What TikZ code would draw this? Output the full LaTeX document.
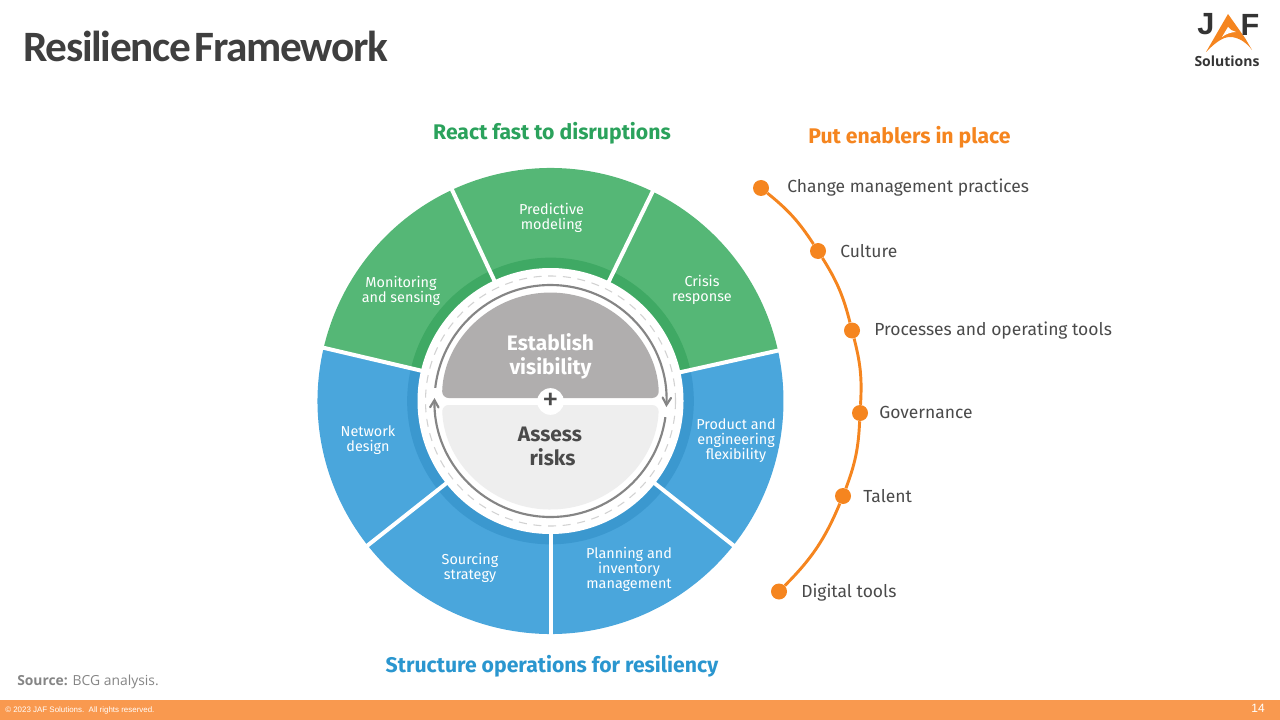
\documentclass[tikz,border=0pt]{standalone}
\usepackage{fontspec}
\setmainfont{Fira Sans}
\newfontfamily\titlefont[LetterSpace=-3]{Carlito}
\newfontfamily\sourcefont{Open Sans}
\newfontfamily\footfont{Liberation Sans}
\usepackage{xcolor}
\usetikzlibrary{arrows}
\definecolor{sectorgreen}{HTML}{55B776}
\definecolor{bandgreen}{HTML}{3FA964}
\definecolor{sectorblue}{HTML}{4AA6DC}
\definecolor{bandblue}{HTML}{3B98CF}
\definecolor{headgreen}{HTML}{2BA25C}
\definecolor{headblue}{HTML}{2A96CF}
\definecolor{enabler}{HTML}{F5851F}
\definecolor{footbar}{HTML}{F9994F}
\definecolor{inktext}{HTML}{4A4A4A}
\definecolor{halfgrey}{HTML}{B0AEAE}
\definecolor{halflight}{HTML}{EEEEEE}
\definecolor{arcgrey}{HTML}{858585}
\definecolor{dashgrey}{HTML}{D2D2D2}
\tikzset{
	wheellabel/.style={font=\fontsize{10.8}{11.3}\selectfont, text=white, align=center},
	centerlabel/.style={font=\fontsize{15.7}{18}\selectfont\bfseries, align=center},
	headlabel/.style={font=\fontsize{15.9}{18}\selectfont\bfseries},
	enablerlabel/.style={font=\fontsize{13.1}{15}\selectfont, text=inktext, anchor=west, inner sep=0},
	enablerdot/.style={circle, fill=enabler, minimum size=12, inner sep=0},
	enablerline/.style={draw=enabler, line width=2.2},
	gapline/.style={draw=white, line width=3},
	cyclearc/.style={draw=arcgrey, line width=1.6}
}
\begin{document}
\begin{tikzpicture}[x=0.75pt,y=0.75pt,yscale=-1,xscale=1]
	\useasboundingbox (0,0) rectangle (1280,720);
	
	\begin{scope}[shift={(550.5,401)},yscale=-1]
		%Shape: Green ring
		\fill [sectorgreen] (12.5:233) arc (12.5:166.8:233) -- (166.8:130) arc (166.8:12.5:130) -- cycle;
		%Shape: Blue ring
		\fill [sectorblue] (166.8:233) arc (166.8:372.5:233) -- (12.5:130) arc (372.5:166.8:130) -- cycle;
		%Shape: Inner bands
		\draw [bandgreen, line width=8] (12.5:138) arc (12.5:166.8:138);
		\draw [bandblue, line width=8] (166.8:138) arc (166.8:372.5:138);
		%Straight Lines: sector gaps
		\draw [gapline] (12.5:130) -- (12.5:236);
		\draw [gapline] (64:130) -- (64:236);
		\draw [gapline] (115:130) -- (115:236);
		\draw [gapline] (166.8:130) -- (166.8:236);
		\draw [gapline] (218.3:130) -- (218.3:236);
		\draw [gapline] (270:130) -- (270:236);
		\draw [gapline] (321.7:130) -- (321.7:236);
		%Shape: White disc and dashed ring
		\fill [white] (0,0) circle (133);
		\draw [dashgrey, dash pattern=on 6pt off 5pt, line width=0.8] (0,0) circle (125);
		%Shape: Half discs
		\fill [halfgrey, rounded corners=5] (-108.5,3) arc (178.4:1.6:108.5) -- cycle;
		\fill [halflight, rounded corners=5] (-108.5,-4) arc (182.1:357.9:108.5) -- cycle;
		%Curved Lines: cycle arrows
		\draw [cyclearc, -angle 60] (173.5:116) arc (173.5:-3:116);
		\draw [cyclearc, -angle 60] (-8:116) arc (-8:-181.5:116);
	\end{scope}
	
	% Text Node
	\draw (550.5,401.5) node (plus) [circle, fill=white, text=inktext, minimum size=20, inner sep=0, font=\fontsize{25}{25}\selectfont] {+};
	% Text Node
	\draw (550.5,356.5) node (establish) [centerlabel, text=white] {Establish\\visibility};
	% Text Node
	\draw (550,446) node (assess) [centerlabel, text=inktext] {Assess\\\ risks};
	% Text Node
	\draw (551.5,218) node (predictive) [wheellabel] {Predictive\\modeling};
	% Text Node
	\draw (401,291) node (monitoring) [wheellabel] {Monitoring\\and sensing};
	% Text Node
	\draw (702,289.5) node (crisis) [wheellabel] {Crisis\\response};
	% Text Node
	\draw (368,440) node (network) [wheellabel] {Network\\design};
	% Text Node
	\draw (736,441) node (product) [wheellabel] {Product and\\engineering\\flexibility};
	% Text Node
	\draw (470,568) node (sourcing) [wheellabel] {Sourcing\\strategy};
	% Text Node
	\draw (629,569) node (planning) [wheellabel] {Planning and\\inventory\\management};
	
	% Text Node
	\draw (552,133) node (react) [headlabel, text=headgreen] {React fast to disruptions};
	% Text Node
	\draw (552,666.5) node (structure) [headlabel, text=headblue] {Structure operations for resiliency};
	% Text Node
	\draw (909.5,137) node (enablers) [headlabel, text=enabler] {Put enablers in place};
	
	%Shape: Enabler dots
	\node (dotchange) [enablerdot] at (761,188) {};
	\node (dotculture) [enablerdot] at (818,251) {};
	\node (dotprocess) [enablerdot] at (852,330.5) {};
	\node (dotgovern) [enablerdot] at (860,413) {};
	\node (dottalent) [enablerdot] at (843,496) {};
	\node (dotdigital) [enablerdot] at (779,591.5) {};
	%Curved Lines
	\draw [enablerline] (dotchange) to [bend right=9] (dotculture);
	\draw [enablerline] (dotculture) to [bend right=9] (dotprocess);
	\draw [enablerline] (dotprocess) to [bend right=9] (dotgovern);
	\draw [enablerline] (dotgovern) to [bend right=9] (dottalent);
	\draw [enablerline] (dottalent) to [bend right=11] (dotdigital);
	
	% Text Node
	\draw (787,188) node (change) [enablerlabel] {Change management practices};
	% Text Node
	\draw (840,251.5) node (culture) [enablerlabel] {Culture};
	% Text Node
	\draw (874,330.5) node (process) [enablerlabel] {Processes and operating tools};
	% Text Node
	\draw (879,412.5) node (govern) [enablerlabel] {Governance};
	% Text Node
	\draw (863,496.5) node (talent) [enablerlabel] {Talent};
	% Text Node
	\draw (801,593) node (digital) [enablerlabel] {Digital tools};
	
	% Text Node
	\draw (23,46) node (title) [anchor=west, inner sep=0, text=inktext!85!black, font=\fontsize{32.5}{36}\selectfont\titlefont\bfseries] {Resilience\hspace{-0.12em} Framework};
	
	%Shape: Logo
	\fill [enabler] (1228,14) -- (1206,52) .. controls (1214,44) and (1222,37) .. (1230,37) .. controls (1238,37) and (1246,42) .. (1252,50) -- (1245,38) -- cycle;
	\fill [white] (1228,27) -- (1222,37) .. controls (1226,34) and (1231,32) .. (1236,32) -- (1231,30) -- cycle;
	% Text Node
	\draw (1206,24.5) node (logoj) [text=inktext!70!black, font=\fontsize{23}{23}\selectfont\bfseries\footfont] {J};
	% Text Node
	\draw (1250,24.5) node (logof) [text=inktext!70!black, font=\fontsize{23}{23}\selectfont\bfseries\footfont] {F};
	% Text Node
	\draw (1227,61.5) node (logotext) [text=inktext!70!black, font=\fontsize{10.5}{12}\selectfont\bfseries\sourcefont] {Solutions};
	
	% Text Node
	\draw (17,682) node (source) [anchor=west, inner sep=0, text=arcgrey, font=\fontsize{10.4}{12}\selectfont\sourcefont] {\textbf{Source:} BCG analysis.};
	
	%Shape: Footer bar
	\fill [footbar] (0,700) rectangle (1280,720);
	% Text Node
	\draw (5,710.5) node (copyright) [anchor=west, inner sep=0, text=white, font=\fontsize{5.95}{7}\selectfont\footfont] {© 2023 JAF Solutions.\ \ All rights reserved.};
	% Text Node
	\draw (1258,708) node (pagenum) [text=white, font=\fontsize{9}{11}\selectfont\footfont] {14};
\end{tikzpicture}
\end{document}
